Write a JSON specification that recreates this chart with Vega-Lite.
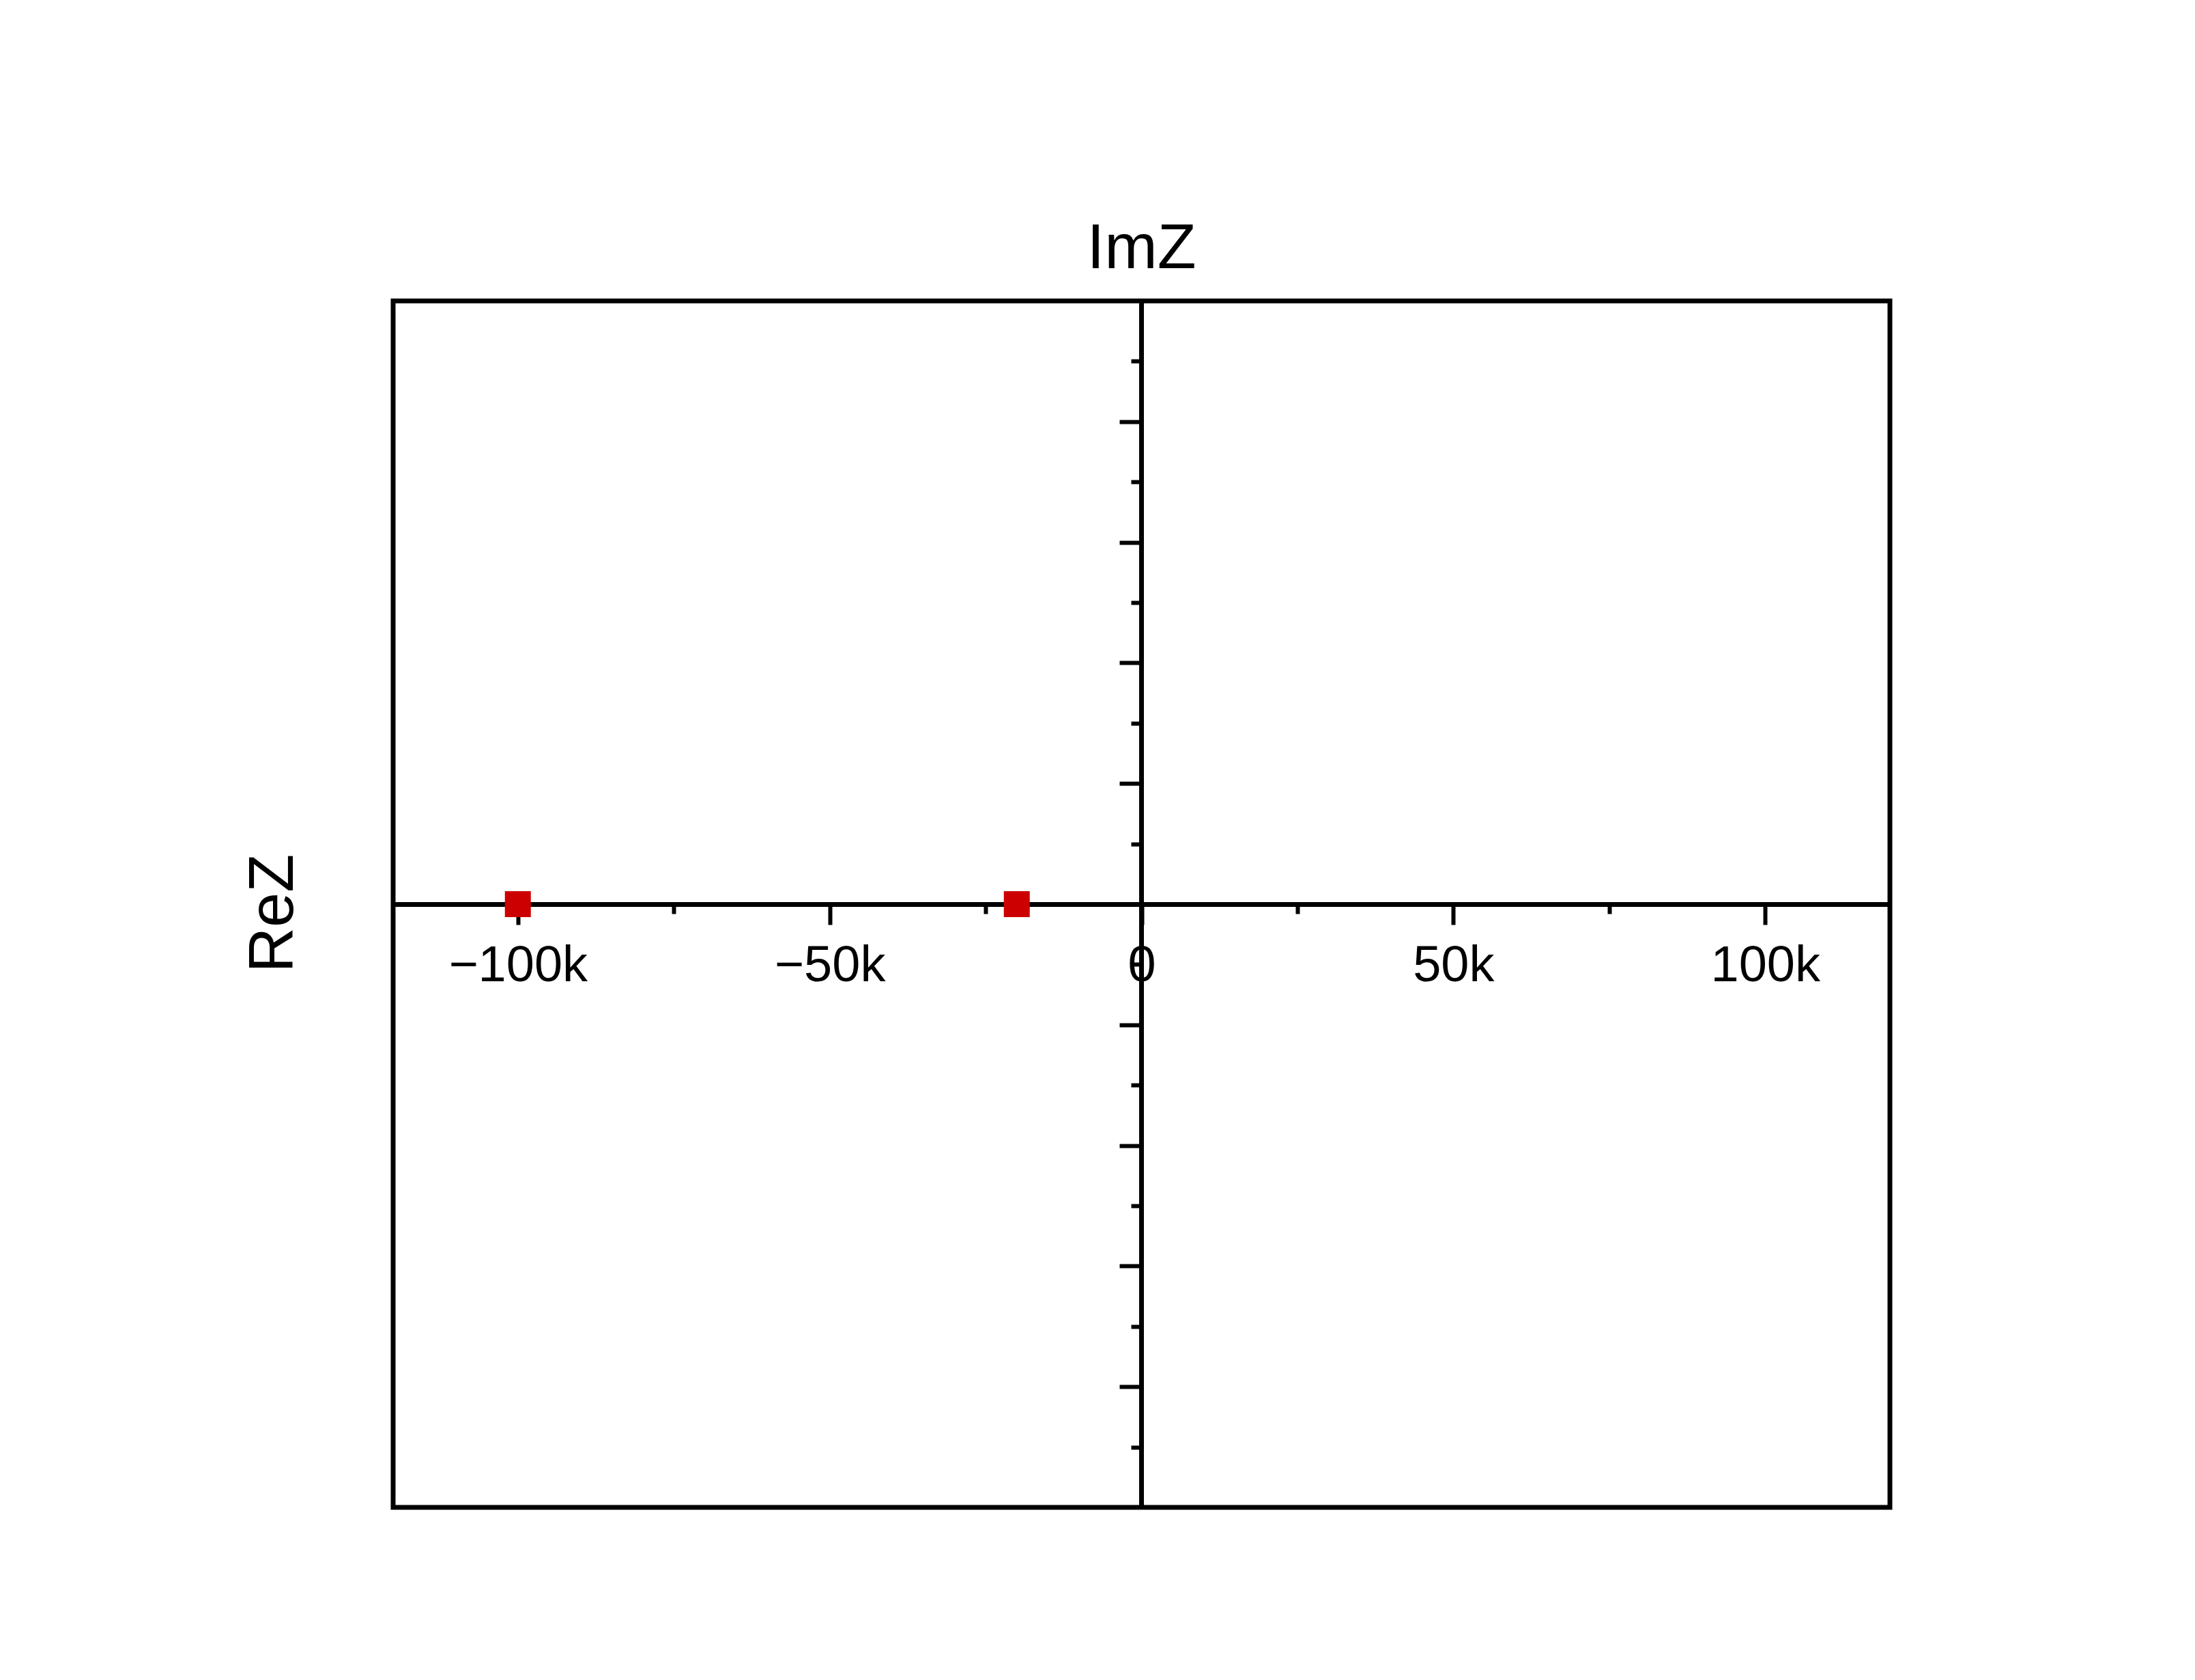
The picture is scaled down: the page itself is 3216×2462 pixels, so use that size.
{
  "$schema": "https://vega.github.io/schema/vega-lite/v6.json",
  "width": 2193,
  "height": 1768,
  "autosize": "none",
  "padding": {"left": 576, "top": 441, "right": 447, "bottom": 253},
  "background": "white",
  "config": {
    "view": {"stroke": "black", "strokeWidth": 7},
    "font": "Liberation Sans"
  },
  "title": {
    "text": "ImZ",
    "fontSize": 93,
    "font": "Liberation Sans",
    "fontWeight": "normal",
    "color": "black",
    "offset": 28
  },
  "data": {
    "values": [
      {"re": -100000, "im": 0},
      {"re": -20000, "im": 0}
    ]
  },
  "mark": {
    "type": "point",
    "shape": "square",
    "filled": true,
    "size": 1444,
    "color": "#cc0000",
    "opacity": 1
  },
  "encoding": {
    "x": {
      "field": "re",
      "type": "quantitative",
      "scale": {"domain": [-120000, 120000], "nice": false, "zero": false},
      "axis": {
        "orient": "bottom",
        "offset": -884,
        "values": [-100000, -75000, -50000, -25000, 0, 25000, 50000, 75000, 100000],
        "labelExpr": "datum.value % 50000 === 0 ? format(datum.value, '~s') : ''",
        "tickSize": {"condition": {"test": "datum.value % 50000 === 0", "value": 30}, "value": 14},
        "tickWidth": 6,
        "tickColor": "black",
        "domainColor": "black",
        "domainWidth": 7,
        "labelFontSize": 74,
        "labelColor": "black",
        "labelFont": "Liberation Sans",
        "labelPadding": 24,
        "labelLimit": 0,
        "labelOverlap": false,
        "labelFlush": false,
        "grid": false,
        "title": null
      }
    },
    "y": {
      "field": "im",
      "type": "quantitative",
      "scale": {"domain": [-5, 5], "nice": false, "zero": false},
      "axis": {
        "orient": "left",
        "offset": -1096,
        "values": [-4.5, -4, -3.5, -3, -2.5, -2, -1.5, -1, -0.5, 0.5, 1, 1.5, 2, 2.5, 3, 3.5, 4, 4.5],
        "labels": false,
        "tickSize": {"condition": {"test": "datum.value % 1 === 0", "value": 32}, "value": 15},
        "tickWidth": 6,
        "tickColor": "black",
        "domainColor": "black",
        "domainWidth": 7,
        "grid": false,
        "title": "ReZ",
        "titleFontSize": 92,
        "titleFont": "Liberation Sans",
        "titleFontWeight": "normal",
        "titleColor": "black",
        "titleBaseline": "alphabetic",
        "titleX": -1244,
        "titleY": 897
      }
    }
  }
}
